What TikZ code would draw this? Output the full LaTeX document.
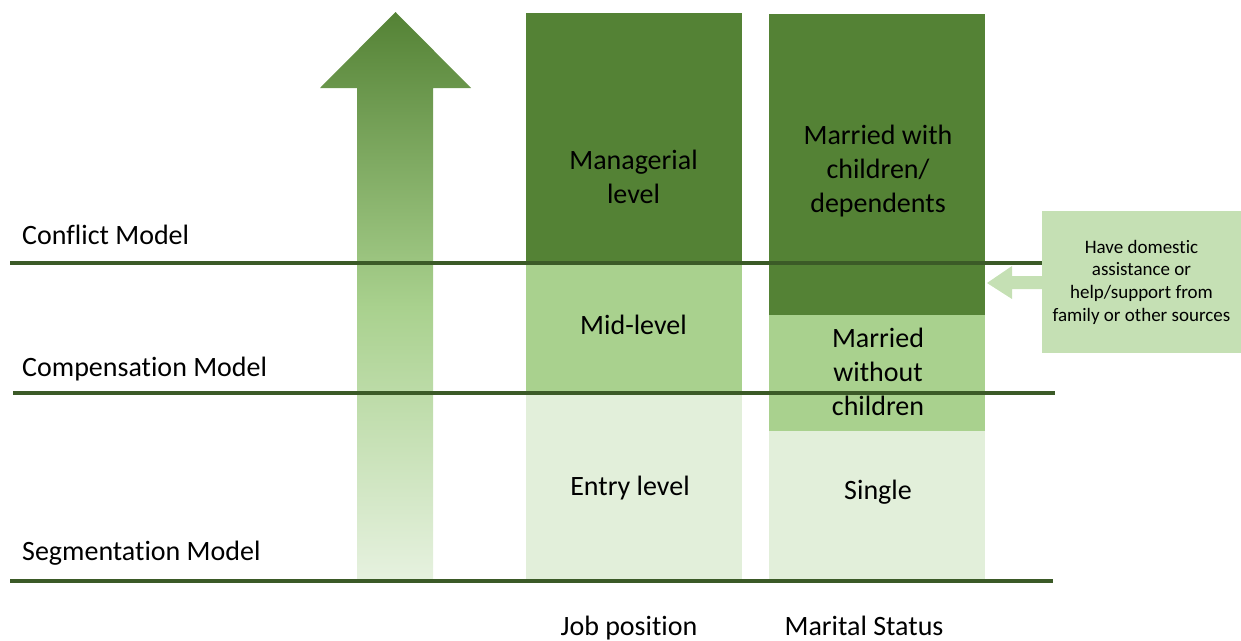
\documentclass[tikz,border=0pt]{standalone}
\usepackage{fontspec}
\setmainfont{Carlito}[Ligatures=NoCommon]
\usetikzlibrary{calc}
\definecolor{gdark}{HTML}{548235}
\definecolor{gmid}{HTML}{A9D18E}
\definecolor{glight}{HTML}{E2EFDA}
\definecolor{gbox}{HTML}{C5E0B4}
\definecolor{gline}{HTML}{3B5A27}
% vertical fade for the rising arrow: light at the foot, dark at the tip
% (the path's box covers the 25bp--75bp part of the shading)
\pgfdeclareverticalshading{risefade}{100bp}{%
  color(0bp)=(glight!85!white); color(25bp)=(glight!85!white);
  color(49bp)=(gmid); color(75bp)=(gdark); color(100bp)=(gdark)}
\begin{document}
\begin{tikzpicture}[x=1pt,y=-1pt,
  band/.style={draw=none,inner sep=0pt,minimum width=216pt},
  bandtext/.style={inner sep=0pt,font=\fontsize{28}{34}\selectfont,align=center,text=black},
  model/.style={anchor=base west,font=\fontsize{28}{34}\selectfont,inner sep=0pt},
  level/.style={draw=gline,line width=3.5pt},
  collabel/.style={anchor=base,font=\fontsize{28}{34}\selectfont,inner sep=0pt}]
\useasboundingbox (0,0) rectangle (1241,640);
% rising arrow with gradient
\shade[shading=risefade]
  (357,580) -- (357,88) -- (320,88) -- (395.5,12) -- (471,88) -- (433,88) -- (433,580) -- cycle;
% job position column
\node[band,fill=gdark,minimum height=250pt] (mgr) at (633.5,138) {};
\node[band,fill=gmid,minimum height=129pt] (mid) at (633.5,327.5) {};
\node[band,fill=glight,minimum height=188pt] (entry) at (633.5,486) {};
\node[bandtext] (mgrt) at (633.5,177) {Managerial\\level};
\node[bandtext] (midt) at (633.5,325) {Mid-level};
\node[bandtext] (entryt) at (630,488) {Entry level};
% marital status column
\node[band,fill=gdark,minimum height=301pt] (mwc) at (877,164.5) {};
\node[band,fill=gmid,minimum height=116pt] (mwo) at (877,373) {};
\node[band,fill=glight,minimum height=149pt] (single) at (877,505.5) {};
\node[bandtext] (mwct) at (878,171) {Married with\\children/\\dependents};
\node[bandtext] (mwot) at (878,372) {Married\\without\\children};
\node[bandtext] (singlet) at (878,492) {Single};
% support box and its arrow
\node[draw=none,fill=gbox,minimum width=199pt,minimum height=142pt,inner sep=0pt,
  align=center,font=\fontsize{19}{22.7}\selectfont] (help) at (1141.5,282)
  {Have domestic\\assistance or\\help/support from\\family or other sources};
\fill[gbox] (help.west |- 0,276) -- (1012,276) -- (1012,266) -- (987,283)
  -- (1012,299) -- (1012,289) -- (help.west |- 0,289) -- cycle;
% model lines
\coordinate (c1) at (10,263);
\coordinate (c2) at (13,393);
\coordinate (c3) at (10,581);
\draw[level] (c1) -- (help.west |- c1);
\draw[level] (c2) -- (1055,393);
\draw[level] (c3) -- (1053,581);
% labels
\node[model] (conf) at (22,244) {Conflict Model};
\node[model] (comp) at (22,376) {Compensation Model};
\node[model] (seg) at (22,560) {Segmentation Model};
\node[collabel] (jp) at (629,635) {Job position};
\node[collabel] (ms) at (864,635) {Marital Status};
\end{tikzpicture}
\end{document}
